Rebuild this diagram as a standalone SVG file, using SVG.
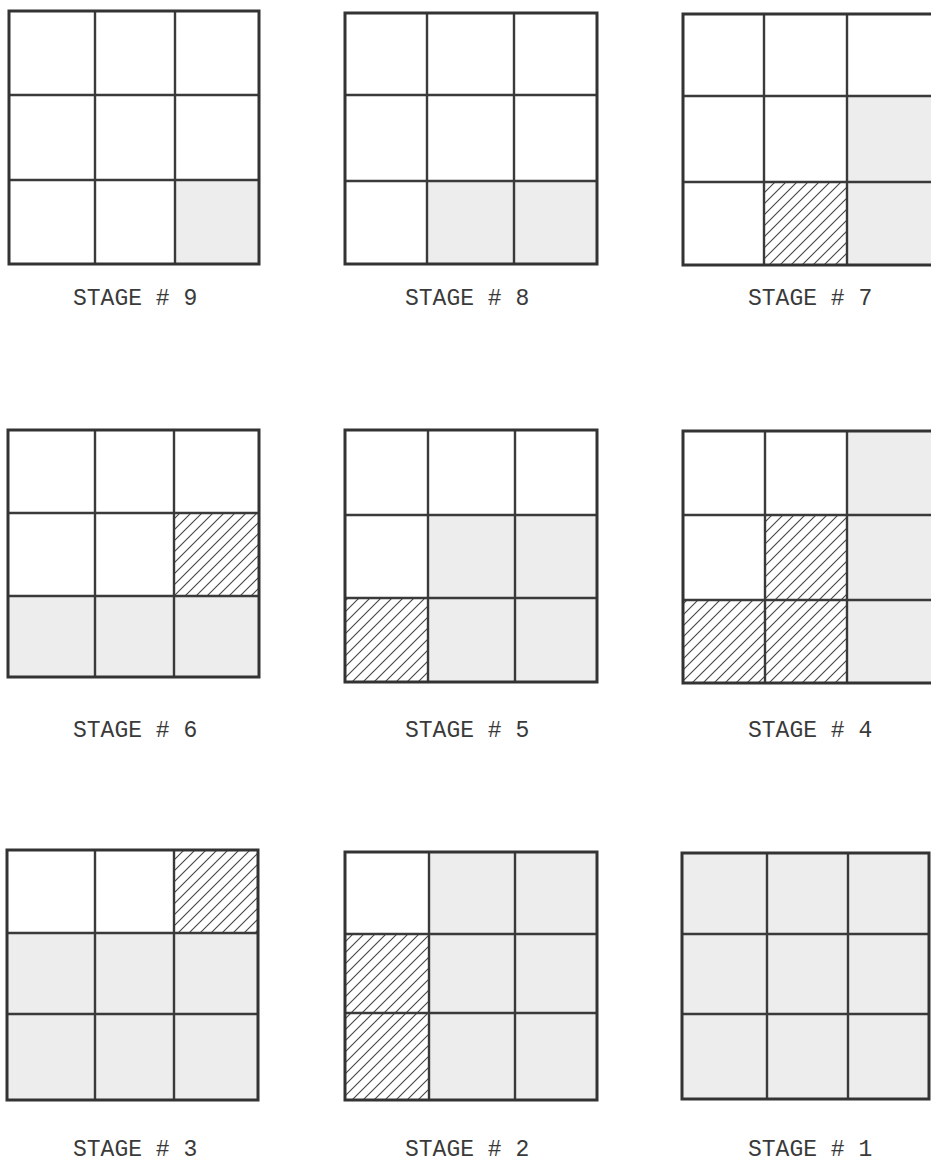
<svg xmlns="http://www.w3.org/2000/svg" width="931" height="1165" viewBox="0 0 931 1165">
<style>
.g{fill:#ededed}
.h{fill:url(#hatch)}
.ln{fill:none;stroke:#3a3a3a;stroke-width:2.4}
.bd{fill:none;stroke:#333;stroke-width:3}
.lb{font-family:"Liberation Mono","Courier New",monospace;font-size:23px;fill:#3a3a3a}
</style>
<defs>
<pattern id="hatch" patternUnits="userSpaceOnUse" width="11" height="11">
<rect width="11" height="11" fill="#fff"/>
<path d="M0,11 L11,0 M-2.75,2.75 L2.75,-2.75 M8.25,13.75 L13.75,8.25" stroke="#444" stroke-width="1.1"/>
</pattern>
</defs>
<rect width="931" height="1165" fill="#fff"/>

<g id="stage9">
<rect class="g" x="175" y="180" width="84" height="84"/>
<path class="ln" d="M95,11V264M175,11V264M9,95H259M9,180H259"/>
<rect class="bd" x="9" y="11" width="250" height="253"/>
<text class="lb" x="73" y="305">STAGE # 9</text>
</g>

<g id="stage8">
<rect class="g" x="427" y="181" width="170" height="83"/>
<path class="ln" d="M427,13V264M514,13V264M345,95H597M345,181H597"/>
<rect class="bd" x="345" y="13" width="252" height="251"/>
<text class="lb" x="405" y="305">STAGE # 8</text>
</g>

<g id="stage7">
<rect class="g" x="847" y="96" width="84" height="169"/>
<rect class="h" x="764" y="182" width="83" height="83"/>
<path class="ln" d="M764,14V265M847,14V265M683,96H931M683,182H931"/>
<rect class="bd" x="683" y="14" width="250" height="251"/>
<text class="lb" x="748" y="305">STAGE # 7</text>
</g>

<g id="stage6">
<rect class="g" x="8" y="596" width="251" height="81"/>
<rect class="h" x="174" y="513" width="85" height="83"/>
<path class="ln" d="M95,430V677M174,430V677M8,513H259M8,596H259"/>
<rect class="bd" x="8" y="430" width="251" height="247"/>
<text class="lb" x="73" y="737">STAGE # 6</text>
</g>

<g id="stage5">
<rect class="g" x="428" y="515" width="169" height="167"/>
<rect class="h" x="345" y="598" width="83" height="84"/>
<path class="ln" d="M428,430V682M515,430V682M345,515H597M345,598H597"/>
<rect class="bd" x="345" y="430" width="252" height="252"/>
<text class="lb" x="405" y="737">STAGE # 5</text>
</g>

<g id="stage4">
<rect class="g" x="847" y="431" width="84" height="252"/>
<rect class="h" x="765" y="515" width="82" height="85"/>
<rect class="h" x="683" y="600" width="164" height="83"/>
<path class="ln" d="M765,431V683M847,431V683M683,515H931M683,600H931"/>
<rect class="bd" x="683" y="431" width="250" height="252"/>
<text class="lb" x="748" y="737">STAGE # 4</text>
</g>

<g id="stage3">
<rect class="g" x="7" y="933" width="251" height="167"/>
<rect class="h" x="174" y="850" width="84" height="83"/>
<path class="ln" d="M95,850V1100M174,850V1100M7,933H258M7,1014H258"/>
<rect class="bd" x="7" y="850" width="251" height="250"/>
<text class="lb" x="73" y="1156">STAGE # 3</text>
</g>

<g id="stage2">
<rect class="g" x="429" y="852" width="168" height="248"/>
<rect class="h" x="345" y="934" width="84" height="166"/>
<path class="ln" d="M429,852V1100M515,852V1100M345,934H597M345,1013H597"/>
<rect class="bd" x="345" y="852" width="252" height="248"/>
<text class="lb" x="405" y="1156">STAGE # 2</text>
</g>

<g id="stage1">
<rect class="g" x="682" y="853" width="247" height="246"/>
<path class="ln" d="M767,853V1099M848,853V1099M682,934H929M682,1014H929"/>
<rect class="bd" x="682" y="853" width="247" height="246"/>
<text class="lb" x="748" y="1156">STAGE # 1</text>
</g>
</svg>
